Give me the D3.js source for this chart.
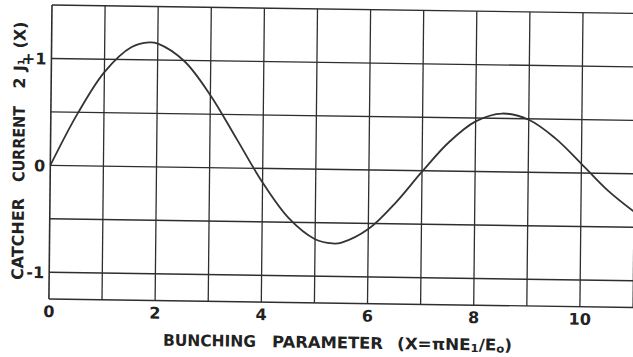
<!DOCTYPE html>
<html><head><meta charset="utf-8">
<script src="https://cdn.jsdelivr.net/npm/d3@7"></script>
<style>html,body{margin:0;padding:0;background:#fff;}svg{display:block;}</style>
</head><body>
<script>
// Data (bunching parameter X vs catcher current 2·J1(X))
const xValues = [0,0.5,1,1.5,1.84,2,2.5,3,3.5,4,4.5,5,5.33,5.5,6,6.5,7,7.5,8,8.5,9,9.5,10,10.5,11];
const currentValues = [0,0.485,0.880,1.116,1.164,1.153,0.994,0.678,0.275,-0.132,-0.462,-0.655,-0.692,-0.683,-0.553,-0.308,-0.009,0.270,0.469,0.546,0.491,0.323,0.087,-0.158,-0.354];
const xTickLabels = [0,2,4,6,8,10];
const yTickLabels = [{v:1,t:"+1"},{v:0,t:"0"},{v:-1,t:"-1"}];
const xGrid = d3.range(0,12,1);
const yGrid = [1.5,1,0.5,0,-0.5,-1,-1.25];

const W=633,H=357;
const svg=d3.select("body").append("svg").attr("width",W).attr("height",H);
svg.append("rect").attr("width",W).attr("height",H).attr("fill","#fff");

const px0=52, py0=5;
const x=d3.scaleLinear().domain([0,10]).range([px0,px0+531]);
const y=d3.scaleLinear().domain([1.5,-1.25]).range([py0,py0+294]);

// scanned page is slightly skewed
const b=0.0145, c=-0.0105;
const g=svg.append("g").attr("transform",`translate(${px0},${py0}) matrix(1,${b},${c},1,0,0) translate(${-px0},${-py0})`);

const ink="#2e2e2e";
const xr=x(11.2);
g.selectAll("line.h").data(yGrid).join("line")
 .attr("x1",x(0)).attr("x2",xr).attr("y1",d=>y(d)).attr("y2",d=>y(d))
 .attr("stroke",ink).attr("stroke-width",1.4);
g.selectAll("line.v").data(xGrid).join("line")
 .attr("x1",d=>x(d)).attr("x2",d=>x(d)).attr("y1",y(1.5)).attr("y2",y(-1.25))
 .attr("stroke",ink).attr("stroke-width",d=>d===0?1.6:1.3);

const line=d3.line().x(d=>x(d[0])).y(d=>y(d[1])).curve(d3.curveCatmullRom.alpha(0.5));
g.append("path").datum(xValues.map((v,i)=>[v,currentValues[i]]))
 .attr("d",line).attr("fill","none").attr("stroke","#333").attr("stroke-width",1.8);

const font="'DejaVu Sans', 'Liberation Sans', sans-serif";
function T(sel){return sel.attr("font-family",font).attr("font-weight","bold").attr("fill","#222");}

T(g.selectAll("text.yt").data(yTickLabels).join("text"))
 .attr("x",47).attr("y",d=>y(d.v)+6).attr("text-anchor","end").attr("font-size",16)
 .text(d=>d.t);
T(g.selectAll("text.xt").data(xTickLabels).join("text"))
 .attr("x",d=>x(d)).attr("y",317).attr("text-anchor","middle").attr("font-size",16)
 .text(d=>d);

// x axis title, word by word
const xb=344;
T(g.append("text")).attr("x",213).attr("y",xb).attr("text-anchor","middle").attr("font-size",16)
 .attr("textLength",93).attr("lengthAdjust","spacingAndGlyphs").text("BUNCHING");
T(g.append("text")).attr("x",331).attr("y",xb).attr("text-anchor","middle").attr("font-size",16)
 .attr("textLength",111).attr("lengthAdjust","spacingAndGlyphs").text("PARAMETER");
const xt=T(g.append("text")).attr("x",458).attr("y",xb).attr("text-anchor","middle").attr("font-size",16)
 .attr("textLength",115).attr("lengthAdjust","spacingAndGlyphs");
xt.append("tspan").text("(X=\u03C0NE");
xt.append("tspan").attr("font-size",11).attr("dy",2).text("1");
xt.append("tspan").attr("dy",-2).text("/E");
xt.append("tspan").attr("font-size",11).attr("dy",2).text("o");
xt.append("tspan").attr("dy",-2).text(")");

// y axis title, word by word (rotated)
const yb=26;
function yw(cy){return T(g.append("text")).attr("transform",`translate(${yb},${cy}) rotate(-90)`).attr("text-anchor","middle").attr("font-size",16);}
yw(239.5).attr("textLength",82).attr("lengthAdjust","spacingAndGlyphs").text("CATCHER");
yw(144.5).attr("textLength",76).attr("lengthAdjust","spacingAndGlyphs").text("CURRENT");
yw(83.5).text("2");
const jj=yw(65.5);
jj.append("tspan").text("J");
jj.append("tspan").attr("font-size",9).attr("dy",-1).text("1");
yw(35.5).text("(X)");
</script>
</body></html>
